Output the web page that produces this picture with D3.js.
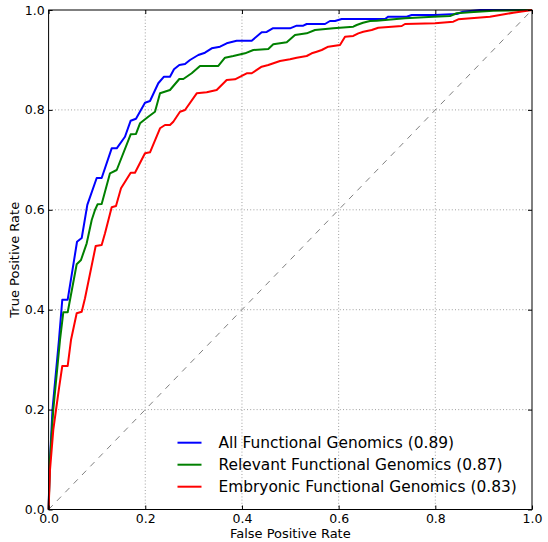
<!DOCTYPE html>
<html>
<head>
<meta charset="utf-8">
<script src="https://cdn.jsdelivr.net/npm/d3@7"></script>
<style>
  body { margin: 0; background: #fff; }
  text { font-family: "DejaVu Sans", sans-serif; fill: #000; }
</style>
</head>
<body>
<div id="chart"></div>
<script>
// ROC curves (false positive rate / true positive rate)
const allFpr = [0, 0.002, 0.008, 0.0215, 0.0283, 0.0395, 0.0588, 0.0685, 0.0801, 0.0995, 0.1098, 0.1305, 0.1409, 0.158, 0.1698, 0.1808, 0.1994, 0.2098, 0.2269, 0.2387, 0.2511, 0.2594, 0.2704, 0.2822, 0.2925, 0.3097, 0.3235, 0.3374, 0.3546, 0.3684, 0.3891, 0.4202, 0.4408, 0.4512, 0.4636, 0.4994, 0.5132, 0.5269, 0.5339, 0.5718, 0.5821, 0.5925, 0.6063, 0.6959, 0.7027, 0.7408, 0.7511, 0.7993, 0.8442, 0.8573, 0.8924, 1];
const allTpr = [0, 0.08, 0.2, 0.34, 0.42, 0.42, 0.536, 0.5435, 0.61, 0.6637, 0.6637, 0.7231, 0.7231, 0.7463, 0.7784, 0.7824, 0.8144, 0.8178, 0.8533, 0.8665, 0.8665, 0.8813, 0.8899, 0.8919, 0.8999, 0.9099, 0.9145, 0.9233, 0.9265, 0.9333, 0.9385, 0.9385, 0.9553, 0.956, 0.9633, 0.9633, 0.9686, 0.9686, 0.972, 0.972, 0.978, 0.978, 0.982, 0.982, 0.9866, 0.9866, 0.99, 0.99, 0.992, 0.9966, 1, 1];

const relFpr = [0, 0.0029, 0.0097, 0.0236, 0.0304, 0.0395, 0.0581, 0.067, 0.0788, 0.0892, 0.096, 0.1012, 0.1098, 0.127, 0.1409, 0.1698, 0.1808, 0.1891, 0.2062, 0.2201, 0.2305, 0.2511, 0.2704, 0.2787, 0.296, 0.3132, 0.3511, 0.3649, 0.3821, 0.4063, 0.4235, 0.4545, 0.4648, 0.4926, 0.5097, 0.5339, 0.5511, 0.5889, 0.6303, 0.6374, 0.6504, 0.6649, 0.6787, 0.7373, 0.7958, 0.8304, 0.8442, 0.8717, 0.9199, 1];
const relTpr = [0, 0.099, 0.2, 0.3393, 0.3948, 0.3948, 0.4909, 0.4995, 0.5329, 0.5796, 0.5996, 0.611, 0.6116, 0.6731, 0.6797, 0.7512, 0.7518, 0.7732, 0.7864, 0.7964, 0.8332, 0.8398, 0.8619, 0.8619, 0.8733, 0.8879, 0.8879, 0.9045, 0.9079, 0.9133, 0.9199, 0.9219, 0.9313, 0.9353, 0.95, 0.9533, 0.96, 0.9633, 0.9666, 0.97, 0.9746, 0.978, 0.9786, 0.9834, 0.9866, 0.988, 0.9934, 0.9954, 0.9986, 1];

const embFpr = [0, 0.0029, 0.0097, 0.0153, 0.0215, 0.0283, 0.0395, 0.0463, 0.0581, 0.0685, 0.0753, 0.0974, 0.1098, 0.1167, 0.1305, 0.1394, 0.1498, 0.1698, 0.1787, 0.1994, 0.2098, 0.2305, 0.2408, 0.2511, 0.258, 0.2718, 0.2822, 0.3064, 0.3271, 0.3477, 0.3684, 0.3856, 0.4098, 0.4202, 0.4408, 0.4545, 0.4787, 0.4994, 0.5132, 0.5339, 0.5443, 0.5546, 0.565, 0.5786, 0.6028, 0.6132, 0.6303, 0.6407, 0.651, 0.6684, 0.682, 0.7305, 0.7373, 0.7993, 0.8372, 0.8475, 0.913, 0.9338, 0.9613, 1];
const embTpr = [0, 0.079, 0.1592, 0.1992, 0.2426, 0.2873, 0.2873, 0.3393, 0.3928, 0.396, 0.4228, 0.5275, 0.5295, 0.553, 0.605, 0.6076, 0.643, 0.6743, 0.6743, 0.7131, 0.7151, 0.7632, 0.7698, 0.7698, 0.7764, 0.7964, 0.7998, 0.8332, 0.8352, 0.8398, 0.8599, 0.8613, 0.8733, 0.8733, 0.8865, 0.8899, 0.8979, 0.9013, 0.9045, 0.9079, 0.9133, 0.9165, 0.9199, 0.9265, 0.93, 0.9466, 0.948, 0.9533, 0.9566, 0.96, 0.9646, 0.968, 0.972, 0.9734, 0.9766, 0.9814, 0.9866, 0.99, 0.9946, 1];

const seriesNames = ["All Functional Genomics (0.89)", "Relevant Functional Genomics (0.87)", "Embryonic Functional Genomics (0.83)"];
const seriesColors = ["#0000ff", "#008000", "#ff0000"];
const tickValues = [0, 0.2, 0.4, 0.6, 0.8, 1.0];

const series = [
  allFpr.map((f, i) => [f, allTpr[i]]),
  relFpr.map((f, i) => [f, relTpr[i]]),
  embFpr.map((f, i) => [f, embTpr[i]])
];

const width = 548, height = 542;
const plotL = 48.6, plotR = 532, plotT = 10, plotB = 509.5;

const svg = d3.select("#chart")
  .append("svg")
  .attr("width", width)
  .attr("height", height);

const x = d3.scaleLinear().domain([0, 1]).range([plotL, plotR]);
const y = d3.scaleLinear().domain([0, 1]).range([plotB, plotT]);

// dotted grid
const grid = svg.append("g").attr("class", "grid");
grid.selectAll("line.gx")
  .data(tickValues.slice(1, -1))
  .enter().append("line")
  .attr("class", "gx")
  .attr("x1", d => x(d)).attr("x2", d => x(d))
  .attr("y1", plotT).attr("y2", plotB)
  .attr("stroke", "#888").attr("stroke-width", 0.8)
  .attr("stroke-dasharray", "1,2.2");
grid.selectAll("line.gy")
  .data(tickValues.slice(1, -1))
  .enter().append("line")
  .attr("class", "gy")
  .attr("y1", d => y(d)).attr("y2", d => y(d))
  .attr("x1", plotL).attr("x2", plotR)
  .attr("stroke", "#888").attr("stroke-width", 0.8)
  .attr("stroke-dasharray", "1,2.2");

// chance diagonal
svg.append("line")
  .attr("x1", x(0)).attr("y1", y(0))
  .attr("x2", x(1)).attr("y2", y(1))
  .attr("stroke", "#808080").attr("stroke-width", 1)
  .attr("stroke-dasharray", "6,6");

const line = d3.line()
  .x(d => x(d[0]))
  .y(d => y(d[1]));

svg.selectAll("path.roc")
  .data(series)
  .enter().append("path")
  .attr("class", "roc")
  .attr("d", line)
  .attr("fill", "none")
  .attr("stroke", (d, i) => seriesColors[i])
  .attr("stroke-width", 2)
  .attr("stroke-linejoin", "round");

// axes, ticks pointing inwards
const fmt = d3.format(".1f");
svg.append("g")
  .attr("transform", `translate(0,${plotB})`)
  .call(d3.axisBottom(x).tickValues(tickValues).tickFormat(fmt).tickSize(-4).tickPadding(5));
svg.append("g")
  .attr("transform", `translate(${plotL},0)`)
  .call(d3.axisLeft(y).tickValues(tickValues).tickFormat(fmt).tickSize(-4).tickPadding(4));
svg.append("g")
  .attr("transform", `translate(0,${plotT})`)
  .call(d3.axisTop(x).tickValues(tickValues).tickFormat("").tickSize(-4));
svg.append("g")
  .attr("transform", `translate(${plotR},0)`)
  .call(d3.axisRight(y).tickValues(tickValues).tickFormat("").tickSize(-4));

svg.selectAll(".domain").remove();
svg.selectAll(".tick line").attr("stroke", "#000");
svg.selectAll(".tick text")
  .style("font-family", "DejaVu Sans, sans-serif")
  .style("font-size", "12.5px")
  .attr("fill", "#000");

// frame
svg.append("rect")
  .attr("x", plotL).attr("y", plotT)
  .attr("width", plotR - plotL).attr("height", plotB - plotT)
  .attr("fill", "none").attr("stroke", "#000").attr("stroke-width", 1);

// axis labels
svg.append("text")
  .attr("x", (plotL + plotR) / 2).attr("y", 538)
  .attr("text-anchor", "middle")
  .style("font-size", "13px")
  .text("False Positive Rate");
svg.append("text")
  .attr("transform", `translate(19,${(plotT + plotB) / 2}) rotate(-90)`)
  .attr("text-anchor", "middle")
  .style("font-size", "13px")
  .text("True Positive Rate");

// legend
const legend = svg.append("g").attr("class", "legend");
const rows = legend.selectAll("g")
  .data(seriesNames)
  .enter().append("g")
  .attr("transform", (d, i) => `translate(0,${442.7 + i * 22})`);
rows.append("line")
  .attr("x1", 177.5).attr("x2", 201.5)
  .attr("stroke", (d, i) => seriesColors[i])
  .attr("stroke-width", 2);
rows.append("text")
  .attr("x", 218.5).attr("y", 5.6)
  .style("font-size", "15.4px")
  .text(d => d);
</script>
</body>
</html>
